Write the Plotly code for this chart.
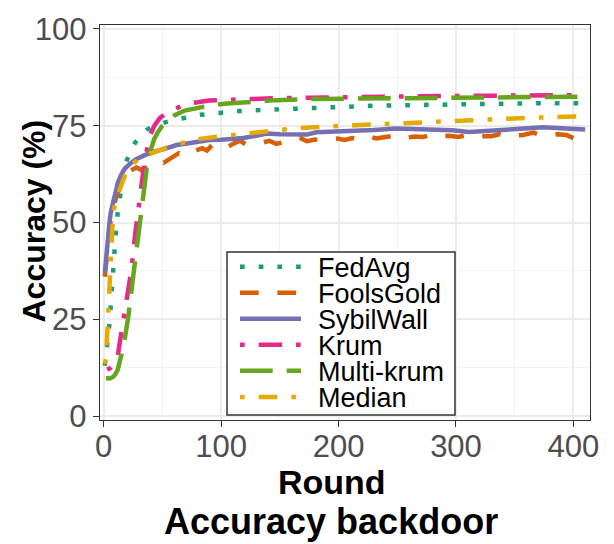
import plotly.graph_objects as go

# Backdoor accuracy (%) per training round for each aggregation rule
fedavg_rounds = [1, 2, 3.5, 5, 6, 7, 8, 9, 10.5, 12, 14, 16, 19, 23, 27, 32, 37, 45, 53, 60, 69,
                 82, 99, 116, 140, 161, 190, 224, 260, 303, 340, 365, 397, 410]
fedavg_acc = [13, 15, 19.5, 24, 29, 34, 38.5, 43, 48, 52.5, 57, 61, 65.5, 68.5, 70.7, 72.5, 74,
              75.2, 76, 76.5, 77, 77.8, 78.3, 78.8, 79.1, 79.4, 79.8, 80.1, 80.3, 80.6, 80.7,
              80.8, 80.8, 80.8]

foolsgold_rounds = [1, 3, 5, 7, 10, 13, 17, 22, 28, 33, 39, 45, 51, 57, 64, 70, 76, 84, 88, 93,
                    99, 104, 110, 116, 121, 128, 135, 141, 147, 154, 160, 167, 173, 180, 186,
                    193, 199, 205, 212, 218, 225, 232, 238, 245, 252, 258, 265, 272, 281, 287,
                    294, 302, 310, 316, 323, 330, 337, 343, 350, 357, 366, 372, 380, 387, 394,
                    400, 405, 410]
foolsgold_acc = [36, 43.5, 48.5, 52.5, 56, 59, 61.5, 63.3, 64.2, 63.4, 64.9, 66, 65.4, 66.6, 67.9,
                 67.2, 68.3, 69.2, 68.6, 70.2, 69.6, 69.2, 70.3, 71.1, 70.2, 70.4, 70.6, 71.1,
                 70.3, 70.8, 71.2, 71.9, 71, 71.4, 71.2, 71.6, 71.7, 71.3, 71.8, 71.6, 72.3,
                 71.7, 72, 72.3, 72.6, 71.9, 72.2, 72.1, 72.8, 72.2, 72.4, 72.1, 72.6, 72.2,
                 72.3, 72.3, 72.8, 72.1, 72.4, 72.6, 73.2, 72.5, 72.5, 72.8, 72.6, 71.8, 72.6,
                 72.7]

sybilwall_rounds = [1, 2, 3, 4, 5, 6, 8, 10, 12, 15, 18, 23, 28, 35, 42, 52, 62, 71, 82, 90,
                    100, 119, 130, 139, 150, 162, 173, 181, 190, 201, 215, 230, 249, 265, 283,
                    297, 311, 325, 340, 355, 374, 390, 405, 410]
sybilwall_acc = [37, 41, 44.5, 47.5, 50, 52.5, 55.5, 58, 60.2, 62.3, 63.9, 65.3, 66.4, 67.4,
                 68.2, 69, 70, 70.4, 71, 71.3, 71.4, 71.8, 72.4, 73, 72.8, 72.6, 72.7, 73.3,
                 73.4, 73.4, 73.7, 73.9, 74.3, 74.2, 74, 73.8, 73.4, 73.6, 73.9, 74.2, 74.6,
                 74.4, 74.1, 74]

krum_rounds = [3, 6, 9, 12, 15, 18, 20.7, 23.7, 26.6, 28.8, 31.9, 34.5, 37.6, 40, 43.3, 48,
               54.7, 62, 70, 90, 119, 147, 175, 187, 238, 264, 311, 340, 369, 400, 410]
krum_acc = [12, 12.5, 13.5, 15.5, 21.5, 27, 32, 37.9, 46.4, 52.3, 59, 65, 70, 72.8, 75.1, 77,
            78.5, 79.6, 80.6, 81.5, 81.9, 82.1, 82.2, 82.3, 82.5, 82.6, 82.7, 82.8, 83, 82.9,
            82.9]

multikrum_rounds = [2, 5, 8, 10, 12, 14, 16.6, 18.5, 20.8, 23.7, 26.6, 29.4, 30.8, 33, 34.9,
                    37.5, 40.6, 43, 46.3, 50, 55, 60.5, 69, 80, 90, 105, 119, 136, 147, 175,
                    210, 250, 287, 340, 369, 405, 410]
multikrum_acc = [9.8, 9.7, 10.1, 10.8, 12, 14, 17.6, 21, 25.2, 32.5, 39.5, 46.4, 50.6, 56.5,
                 61.6, 66, 69.2, 71.5, 73.4, 75, 76.5, 77.7, 78.9, 79.7, 80.2, 80.7, 81, 81.4,
                 81.6, 81.9, 82, 82.2, 82.3, 82.3, 82.5, 82.5, 82.5]

median_rounds = [1, 2, 3, 4, 5, 6, 7, 8, 10, 14, 18, 23, 30, 40, 50, 61, 72, 82, 100, 124, 145,
                 167, 190, 212, 230, 255, 275, 297, 320, 340, 360, 382, 403, 410]
median_acc = [13.5, 15, 21, 27, 34, 39.5, 45, 52, 55.5, 59, 62, 64.6, 66.5, 67.8, 69, 70.2,
              70.8, 71.6, 72.3, 73.1, 73.8, 74.4, 74.8, 75.1, 75.4, 75.7, 76, 76.4, 76.6, 76.9,
              77, 77.2, 77.4, 77.4]

series_names = ["FedAvg", "FoolsGold", "SybilWall", "Krum", "Multi-krum", "Median"]
series_rounds = [fedavg_rounds, foolsgold_rounds, sybilwall_rounds, krum_rounds,
                 multikrum_rounds, median_rounds]
series_acc = [fedavg_acc, foolsgold_acc, sybilwall_acc, krum_acc, multikrum_acc, median_acc]

x_ticks = [0, 100, 200, 300, 400]
y_ticks = [0, 25, 50, 75, 100]

colors = ["#1B9E77", "#D95F02", "#7570B3", "#E7298A", "#66A61E", "#E6AB02"]
dashes = ["4.7px,14px", "18.7px,18.7px", "solid", "4.7px,14px,23.3px,14px",
          "32.7px,14px", "4.7px,14px,18.7px,14px"]
LINE_W = 4.5
FONT = "Liberation Sans, Arial, sans-serif"

# plotting panel in pixels
W, H = 614, 544
PL, PR, PT, PB = 100, 590, 18, 420


def paper_x(px):
    return (px - PL) / (PR - PL)


def paper_y(py):
    return (PB - py) / (PB - PT)


fig = go.Figure()
for name, xs, ys, c, d in zip(series_names, series_rounds, series_acc, colors, dashes):
    fig.add_trace(go.Scatter(x=xs, y=ys, mode="lines", name=name,
                             line=dict(color=c, width=LINE_W, dash=d),
                             showlegend=False, hoverinfo="x+y+name"))

# legend drawn as a boxed key
shapes = [dict(type="rect", xref="paper", yref="paper",
               x0=paper_x(227), x1=paper_x(455), y0=paper_y(415), y1=paper_y(249),
               line=dict(color="#333333", width=1.5), fillcolor="white", layer="above")]
annotations = []
row_y = [264, 290.5, 317, 343.5, 370, 396.5]
for name, c, d, ry in zip(series_names, colors, dashes, row_y):
    shapes.append(dict(type="line", xref="paper", yref="paper",
                       x0=paper_x(240), x1=paper_x(301), y0=paper_y(ry), y1=paper_y(ry),
                       line=dict(color=c, width=LINE_W, dash=d), layer="above"))
    annotations.append(dict(text=name, xref="paper", yref="paper",
                            x=paper_x(316), y=paper_y(ry + 1), xanchor="left", yanchor="middle",
                            showarrow=False, font=dict(family=FONT, size=27, color="black")))

annotations.append(dict(text="<b>Round</b>", xref="paper", yref="paper",
                        x=paper_x(332), y=paper_y(483), xanchor="center", yanchor="middle",
                        showarrow=False, font=dict(family=FONT, size=34, color="black")))
annotations.append(dict(text="<b>Accuracy (%)</b>", xref="paper", yref="paper",
                        x=paper_x(34), y=paper_y(218), xanchor="center", yanchor="middle",
                        textangle=-90, showarrow=False,
                        font=dict(family=FONT, size=32, color="black")))
annotations.append(dict(text="<b>Accuracy backdoor</b>", xref="paper", yref="paper",
                        x=paper_x(331), y=paper_y(523), xanchor="center", yanchor="middle",
                        showarrow=False, font=dict(family=FONT, size=36, color="black")))

axis_common = dict(showline=True, linecolor="#333333", linewidth=1.4, mirror=True,
                   ticks="outside", ticklen=6, tickwidth=1.2, tickcolor="#333333",
                   showgrid=True, gridcolor="#EBEBEB", gridwidth=1.6, zeroline=False,
                   tickfont=dict(family=FONT, size=31, color="#4D4D4D"))

fig.update_layout(
    width=W, height=H, autosize=False,
    margin=dict(l=PL, r=W - PR, t=PT, b=H - PB, pad=0),
    plot_bgcolor="white", paper_bgcolor="white",
    font=dict(family=FONT),
    xaxis=dict(range=[-3.1, 414.1], tickvals=x_ticks, ticktext=[str(v) for v in x_ticks],
               ticklabelstandoff=-7,
               minor=dict(tickvals=[50, 150, 250, 350], showgrid=True,
                          gridcolor="#F3F3F3", gridwidth=0.9),
               **axis_common),
    yaxis=dict(range=[-1, 101], tickvals=y_ticks, ticktext=[str(v) for v in y_ticks],
               minor=dict(tickvals=[12.5, 37.5, 62.5, 87.5], showgrid=True,
                          gridcolor="#F3F3F3", gridwidth=0.9),
               **axis_common),
    shapes=shapes, annotations=annotations, showlegend=False,
)

fig.write_html("out.html")
